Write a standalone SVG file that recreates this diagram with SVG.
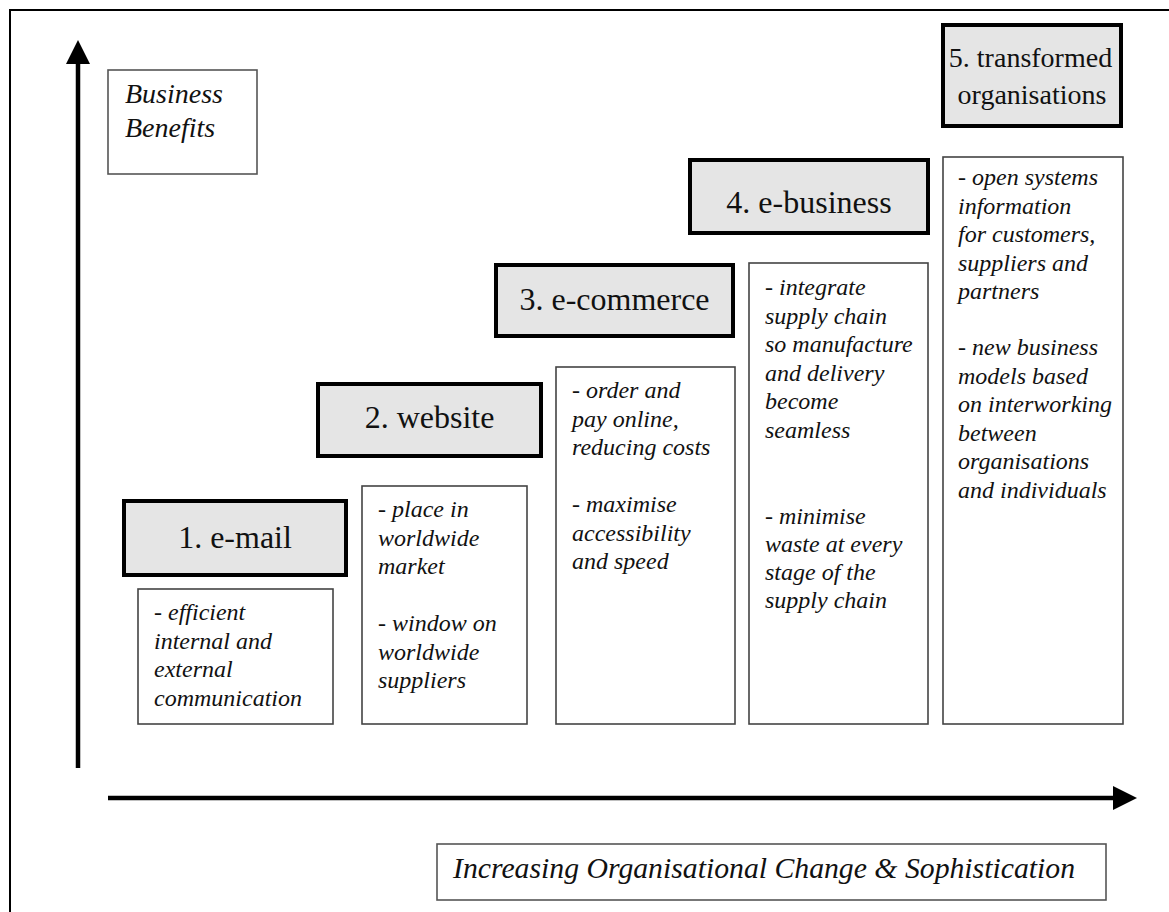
<svg xmlns="http://www.w3.org/2000/svg" width="1169" height="912" viewBox="0 0 1169 912">
  <style>
    .stage { fill: #e5e5e5; stroke: #000; stroke-width: 4; }
    .stage-label { font-family: "Liberation Serif", "Times New Roman", serif; font-size: 32px; fill: #111; text-anchor: middle; }
    .note { fill: #fff; stroke: #444; stroke-width: 1.6; }
    .note-text { font-family: "Liberation Serif", "Times New Roman", serif; font-style: italic; font-size: 24px; fill: #111; }
    .axis { stroke: #000; stroke-width: 4.5; fill: none; }
    .frame { stroke: #000; stroke-width: 2; fill: none; }
  </style>

  <rect width="1169" height="912" fill="#fff"/>

  <!-- page frame (top and left edges) -->
  <path class="frame" d="M10 912 V10 H1169"/>

  <!-- axes -->
  <g id="connectors">
    <line class="axis" x1="78" y1="768" x2="78" y2="60"/>
    <polygon points="78,40 66,64 90,64" fill="#000"/>
    <line class="axis" x1="108" y1="798" x2="1116" y2="798"/>
    <polygon points="1137,798 1113,786 1113,810" fill="#000"/>
  </g>

  <!-- vertical axis label -->
  <g id="label-benefits">
    <rect x="108" y="70" width="149" height="104" fill="#fff" stroke="#555" stroke-width="1.6"/>
    <text class="note-text" style="font-size:28px">
      <tspan x="125" y="103">Business</tspan>
      <tspan x="125" y="137">Benefits</tspan>
    </text>
  </g>

  <!-- horizontal axis label -->
  <g id="label-change">
    <rect x="437" y="844" width="669" height="56" fill="#fff" stroke="#555" stroke-width="1.6"/>
    <text class="note-text" x="453" y="878" style="font-size:30px" textLength="622" lengthAdjust="spacingAndGlyphs">Increasing Organisational Change &amp; Sophistication</text>
  </g>

  <!-- stage 1 -->
  <g id="stage-email">
    <rect class="stage" x="124" y="501" width="222" height="74"/>
    <text class="stage-label" x="235" y="548">1. e-mail</text>
  </g>
  <g id="notes-email">
    <rect class="note" x="138" y="589" width="195" height="135"/>
    <text class="note-text">
      <tspan x="154" y="620">- efficient</tspan>
      <tspan x="154" y="648.5">internal and</tspan>
      <tspan x="154" y="677">external</tspan>
      <tspan x="154" y="705.5">communication</tspan>
    </text>
  </g>

  <!-- stage 2 -->
  <g id="stage-website">
    <rect class="stage" x="318" y="384" width="223" height="72"/>
    <text class="stage-label" x="429.5" y="428">2. website</text>
  </g>
  <g id="notes-website">
    <rect class="note" x="362" y="486" width="165" height="238"/>
    <text class="note-text">
      <tspan x="378" y="517">- place in</tspan>
      <tspan x="378" y="545.5">worldwide</tspan>
      <tspan x="378" y="574">market</tspan>
      <tspan x="378" y="631">- window on</tspan>
      <tspan x="378" y="659.5">worldwide</tspan>
      <tspan x="378" y="688">suppliers</tspan>
    </text>
  </g>

  <!-- stage 3 -->
  <g id="stage-ecommerce">
    <rect class="stage" x="496" y="265" width="237" height="71"/>
    <text class="stage-label" x="614.5" y="310">3. e-commerce</text>
  </g>
  <g id="notes-ecommerce">
    <rect class="note" x="556" y="367" width="179" height="357"/>
    <text class="note-text">
      <tspan x="572" y="398">- order and</tspan>
      <tspan x="572" y="426.5">pay online,</tspan>
      <tspan x="572" y="455">reducing costs</tspan>
      <tspan x="572" y="512">- maximise</tspan>
      <tspan x="572" y="540.5">accessibility</tspan>
      <tspan x="572" y="569">and speed</tspan>
    </text>
  </g>

  <!-- stage 4 -->
  <g id="stage-ebusiness">
    <rect class="stage" x="690" y="160" width="238" height="73"/>
    <text class="stage-label" x="809" y="213">4. e-business</text>
  </g>
  <g id="notes-ebusiness">
    <rect class="note" x="749" y="263" width="179" height="461"/>
    <text class="note-text">
      <tspan x="765" y="295">- integrate</tspan>
      <tspan x="765" y="323.5">supply chain</tspan>
      <tspan x="765" y="352">so manufacture</tspan>
      <tspan x="765" y="380.5">and delivery</tspan>
      <tspan x="765" y="409">become</tspan>
      <tspan x="765" y="437.5">seamless</tspan>
      <tspan x="765" y="524">- minimise</tspan>
      <tspan x="765" y="552">waste at every</tspan>
      <tspan x="765" y="580">stage of the</tspan>
      <tspan x="765" y="608">supply chain</tspan>
    </text>
  </g>

  <!-- stage 5 -->
  <g id="stage-transformed">
    <rect class="stage" x="943" y="25" width="178" height="101"/>
    <text class="stage-label" style="font-size:28px">
      <tspan x="1034" y="67">5. transformed</tspan>
      <tspan x="1032" y="104">organisations</tspan>
    </text>
  </g>
  <g id="notes-transformed">
    <rect class="note" x="943" y="157" width="180" height="567"/>
    <text class="note-text">
      <tspan x="958" y="185">- open systems</tspan>
      <tspan x="958" y="213.5">information</tspan>
      <tspan x="958" y="242">for customers,</tspan>
      <tspan x="958" y="270.5">suppliers and</tspan>
      <tspan x="958" y="299">partners</tspan>
      <tspan x="958" y="355">- new business</tspan>
      <tspan x="958" y="383.5">models based</tspan>
      <tspan x="958" y="412">on interworking</tspan>
      <tspan x="958" y="440.5">between</tspan>
      <tspan x="958" y="469">organisations</tspan>
      <tspan x="958" y="497.5">and individuals</tspan>
    </text>
  </g>
</svg>
